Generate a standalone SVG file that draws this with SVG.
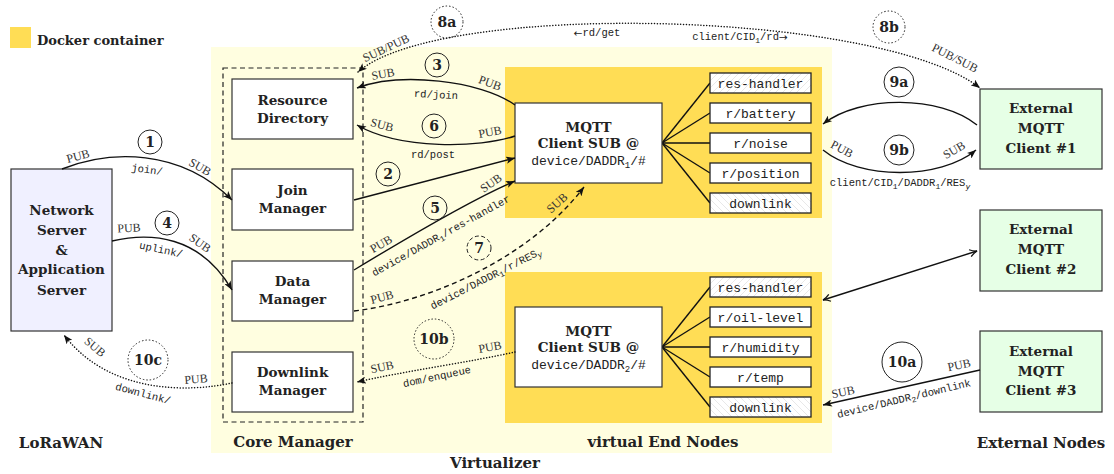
<svg xmlns="http://www.w3.org/2000/svg" width="1114" height="474" viewBox="0 0 1114 474">
<style>
.bold{font-family:"DejaVu Serif",serif;font-weight:bold;fill:#222}
.nt{font-size:13.5px;text-anchor:middle}
.title{font-size:15px;text-anchor:middle}
.lbl{font-family:"Liberation Serif",serif;font-size:12px;fill:#333;text-anchor:middle;dominant-baseline:central}
.mono{font-family:"Liberation Mono",monospace;fill:#222}
.ml{font-size:10.5px;text-anchor:middle;dominant-baseline:central}
.mt{font-size:13px;text-anchor:middle}
.arw{font-family:"DejaVu Sans",sans-serif}
.box{fill:#fff;stroke:#333;stroke-width:1.2}
.res{stroke:#222;stroke-width:1.3}
.num{font-family:"DejaVu Serif",serif;font-weight:bold;font-size:14px;text-anchor:middle;fill:#222;dominant-baseline:central}
.circ{fill:none;stroke:#222;stroke-width:1}
.solid{fill:none;stroke:#111;stroke-width:1.4}
.dash{fill:none;stroke:#111;stroke-width:1.4;stroke-dasharray:5,3.5}
.dot{fill:none;stroke:#111;stroke-width:1.5;stroke-dasharray:0.1,2.8;stroke-linecap:round}
.fan{stroke:#111;stroke-width:1.4}
.ext{fill:#e6ffe6;stroke:#333;stroke-width:1.2}
.dock{fill:#ffdd55}
</style>
<defs>
<marker id="st" viewBox="0 0 10 8" refX="10" refY="4" markerWidth="9" markerHeight="7.2" markerUnits="userSpaceOnUse" orient="auto-start-reverse">
<path d="M0,0 L10,4 L0,8 L2.5,4 z" fill="#111"/>
</marker>
<marker id="to" viewBox="0 0 10 10" refX="9" refY="5" markerWidth="9" markerHeight="9" markerUnits="userSpaceOnUse" orient="auto-start-reverse">
<path d="M1,1 Q5,4 9,5 Q5,6 1,9" fill="none" stroke="#111" stroke-width="1.4"/>
</marker>
<pattern id="hatchA" width="7" height="7" patternUnits="userSpaceOnUse">
<rect width="7" height="7" fill="#fff"/>
<path d="M-1,1 L1,-1 M0,7 L7,0 M6,8 L8,6" stroke="#d8d8d8" stroke-width="0.6"/>
</pattern>
<pattern id="hatchB" width="7" height="7" patternUnits="userSpaceOnUse">
<rect width="7" height="7" fill="#fff"/>
<path d="M-1,6 L1,8 M0,0 L7,7 M6,-1 L8,1" stroke="#d8d8d8" stroke-width="0.6"/>
</pattern>
</defs>

<g id="legend">
<rect x="10" y="27" width="21" height="21" class="dock"/>
<text x="37" y="45" class="bold" font-size="13">Docker container</text>
</g>

<g id="virtualizer">
<rect x="211" y="47" width="621" height="406" fill="#fffee0"/>
<text x="495" y="468" class="bold title">Virtualizer</text>
</g>

<g id="core-manager">
<rect x="223" y="68" width="140" height="354" fill="none" stroke="#222" stroke-width="1.2" stroke-dasharray="5,3.5"/>
<text x="293" y="447" class="bold title">Core Manager</text>
</g>

<g id="resource-directory">
<rect x="232" y="79" width="121" height="60" class="box"/>
<text x="292.5" y="105" class="bold nt">Resource</text>
<text x="292.5" y="123" class="bold nt">Directory</text>
</g>
<g id="join-manager">
<rect x="232" y="169" width="121" height="61" class="box"/>
<text x="292.5" y="195" class="bold nt">Join</text>
<text x="292.5" y="213" class="bold nt">Manager</text>
</g>
<g id="data-manager">
<rect x="232" y="261" width="121" height="60" class="box"/>
<text x="292.5" y="286" class="bold nt">Data</text>
<text x="292.5" y="304" class="bold nt">Manager</text>
</g>
<g id="downlink-manager">
<rect x="232" y="352" width="121" height="60" class="box"/>
<text x="292.5" y="377" class="bold nt">Downlink</text>
<text x="292.5" y="395" class="bold nt">Manager</text>
</g>

<g id="network-server">
<rect x="11" y="169" width="101" height="162" fill="#f0f0ff" stroke="#333" stroke-width="1.2"/>
<text x="61.5" y="215" class="bold nt">Network</text>
<text x="61.5" y="235" class="bold nt">Server</text>
<text x="61.5" y="255" class="bold nt">&amp;</text>
<text x="61.5" y="274" class="bold nt">Application</text>
<text x="61.5" y="295" class="bold nt">Server</text>
<text x="61" y="448" class="bold title">LoRaWAN</text>
</g>

<g id="virtual-end-node-1">
<rect x="505" y="67" width="317" height="151" class="dock"/>
<line x1="662" y1="143" x2="710" y2="83" class="fan"/>
<line x1="662" y1="143" x2="710" y2="113" class="fan"/>
<line x1="662" y1="143" x2="710" y2="143" class="fan"/>
<line x1="662" y1="143" x2="710" y2="173" class="fan"/>
<line x1="662" y1="143" x2="710" y2="203" class="fan"/>
<rect x="515" y="103" width="147" height="80" class="box"/>
<text x="588.5" y="132" class="bold nt">MQTT</text>
<text x="588.5" y="148" class="bold nt">Client SUB @</text>
<text x="588.5" y="165" class="mono mt">device/DADDR<tspan font-size="9" dy="3">1</tspan><tspan dy="-3">/#</tspan></text>
<rect x="710" y="73" width="101" height="20" class="res" fill="url(#hatchA)"/>
<text x="760.5" y="87.5" class="mono mt">res-handler</text>
<rect x="710" y="103" width="101" height="20" class="res" fill="#fff"/>
<text x="760.5" y="117.5" class="mono mt">r/battery</text>
<rect x="710" y="133" width="101" height="20" class="res" fill="#fff"/>
<text x="760.5" y="147.5" class="mono mt">r/noise</text>
<rect x="710" y="163" width="101" height="20" class="res" fill="#fff"/>
<text x="760.5" y="177.5" class="mono mt">r/position</text>
<rect x="710" y="193" width="101" height="20" class="res" fill="url(#hatchB)"/>
<text x="760.5" y="207.5" class="mono mt">downlink</text>
</g>

<g id="virtual-end-node-2">
<rect x="505" y="272" width="317" height="151" class="dock"/>
<line x1="662" y1="347" x2="710" y2="287" class="fan"/>
<line x1="662" y1="347" x2="710" y2="317" class="fan"/>
<line x1="662" y1="347" x2="710" y2="347" class="fan"/>
<line x1="662" y1="347" x2="710" y2="377" class="fan"/>
<line x1="662" y1="347" x2="710" y2="407" class="fan"/>
<rect x="515" y="307" width="147" height="80" class="box"/>
<text x="588.5" y="336" class="bold nt">MQTT</text>
<text x="588.5" y="352" class="bold nt">Client SUB @</text>
<text x="588.5" y="369" class="mono mt">device/DADDR<tspan font-size="9" dy="3">2</tspan><tspan dy="-3">/#</tspan></text>
<rect x="710" y="277" width="101" height="20" class="res" fill="url(#hatchA)"/>
<text x="760.5" y="291.5" class="mono mt">res-handler</text>
<rect x="710" y="307" width="101" height="20" class="res" fill="#fff"/>
<text x="760.5" y="321.5" class="mono mt">r/oil-level</text>
<rect x="710" y="337" width="101" height="20" class="res" fill="#fff"/>
<text x="760.5" y="351.5" class="mono mt">r/humidity</text>
<rect x="710" y="367" width="101" height="20" class="res" fill="#fff"/>
<text x="760.5" y="381.5" class="mono mt">r/temp</text>
<rect x="710" y="397" width="101" height="20" class="res" fill="url(#hatchB)"/>
<text x="760.5" y="411.5" class="mono mt">downlink</text>
<text x="663" y="447" class="bold title">virtual End Nodes</text>
</g>

<g id="external-client-1">
<rect x="980" y="89" width="122" height="80" class="ext"/>
<text x="1041" y="113" class="bold nt">External</text>
<text x="1041" y="133" class="bold nt">MQTT</text>
<text x="1041" y="153" class="bold nt">Client #1</text>
</g>
<g id="external-client-2">
<rect x="980" y="210" width="122" height="81" class="ext"/>
<text x="1041" y="234" class="bold nt">External</text>
<text x="1041" y="254" class="bold nt">MQTT</text>
<text x="1041" y="274" class="bold nt">Client #2</text>
</g>
<g id="external-client-3">
<rect x="980" y="331" width="122" height="81" class="ext"/>
<text x="1041" y="356" class="bold nt">External</text>
<text x="1041" y="376" class="bold nt">MQTT</text>
<text x="1041" y="395" class="bold nt">Client #3</text>
<text x="1041" y="448" class="bold title">External Nodes</text>
</g>

<g id="connectors">
<!-- 1 -->
<path d="M62 169 C110 150, 180 148, 232 200" class="solid" marker-end="url(#st)"/>
<text class="lbl" transform="translate(78,156) rotate(-15)">PUB</text>
<circle cx="150" cy="142" r="12" class="circ"/><text x="150" y="142" class="num">1</text>
<text class="mono ml" transform="translate(147,170) rotate(8)">join/</text>
<text class="lbl" transform="translate(200,167) rotate(30)">SUB</text>
<!-- 4 -->
<path d="M112 241 C150 232, 200 235, 232 290" class="solid" marker-end="url(#st)"/>
<text class="lbl" transform="translate(129,228) rotate(-3)">PUB</text>
<circle cx="167" cy="223" r="12" class="circ"/><text x="167" y="223" class="num">4</text>
<text class="mono ml" transform="translate(161,250) rotate(12)">uplink/</text>
<text class="lbl" transform="translate(200,243) rotate(35)">SUB</text>
<!-- 10c -->
<path d="M232 383 C190 392, 110 395, 64 335" class="dot" marker-end="url(#st)"/>
<text class="lbl" transform="translate(95,347) rotate(40)">SUB</text>
<circle cx="148" cy="360" r="20" class="circ" stroke-dasharray="1.5,2"/><text x="148" y="360" class="num" font-size="15">10c</text>
<text class="lbl" transform="translate(196,379) rotate(-5)">PUB</text>
<text class="mono ml" transform="translate(143,394) rotate(15)">downlink/</text>
<!-- 3 -->
<path d="M515 105 C480 80, 400 72, 357 88" class="solid" marker-end="url(#st)"/>
<text class="lbl" transform="translate(383,74) rotate(-10)">SUB</text>
<circle cx="437" cy="65" r="12" class="circ"/><text x="437" y="65" class="num">3</text>
<text class="lbl" transform="translate(490,83) rotate(20)">PUB</text>
<text class="mono ml" transform="translate(436,95) rotate(3)">rd/join</text>
<!-- 6 -->
<path d="M515 136 C480 148, 400 150, 357 125" class="solid" marker-end="url(#st)"/>
<text class="lbl" transform="translate(382,125) rotate(15)">SUB</text>
<circle cx="434" cy="126" r="12" class="circ"/><text x="434" y="126" class="num">6</text>
<text class="lbl" transform="translate(490,132) rotate(-10)">PUB</text>
<text class="mono ml" transform="translate(433,155)">rd/post</text>
<!-- 2 -->
<path d="M354 200 L515 158" class="solid" marker-end="url(#st)"/>
<circle cx="388" cy="174" r="12" class="circ"/><text x="388" y="174" class="num">2</text>
<!-- 5 -->
<path d="M354 270 C400 242, 470 200, 515 181" class="solid" marker-end="url(#st)"/>
<text class="lbl" transform="translate(491,183) rotate(-35)">SUB</text>
<circle cx="435" cy="208" r="12" class="circ"/><text x="435" y="208" class="num">5</text>
<text class="lbl" transform="translate(381,244) rotate(-30)">PUB</text>
<text class="mono ml" transform="translate(441,236) rotate(-29)">device/DADDR<tspan font-size="8" dy="2.5">1</tspan><tspan dy="-2.5">/res-handler</tspan></text>
<!-- 7 -->
<path d="M354 311 C430 302, 530 258, 584 187" class="dash" marker-end="url(#st)"/>
<circle cx="479" cy="248" r="12" class="circ" stroke-dasharray="4,2.5"/><text x="479" y="248" class="num">7</text>
<text class="lbl" transform="translate(557,203) rotate(-42)" fill="#d9a800">SUB</text>
<text class="lbl" transform="translate(382,297) rotate(-15)">PUB</text>
<text class="mono ml" transform="translate(486,279) rotate(-27)">device/DADDR<tspan font-size="8" dy="2.5">1</tspan><tspan dy="-2.5">/r/RES</tspan><tspan font-size="8" dy="2.5" font-style="italic">y</tspan></text>
<!-- 8 -->
<path d="M358 72 C440 0, 880 10, 980 88" class="dot" marker-start="url(#st)" marker-end="url(#st)"/>
<text class="lbl" transform="translate(386,48) rotate(-25)">SUB/PUB</text>
<circle cx="447" cy="22" r="16" class="circ" stroke-dasharray="1.5,2"/><text x="447" y="22" class="num" font-size="15">8a</text>
<text class="mono ml" x="597" y="33"><tspan class="arw">←</tspan>rd/get</text>
<text class="mono ml" x="740" y="37">client/CID<tspan font-size="8" dy="2.5">1</tspan><tspan dy="-2.5">/rd</tspan><tspan class="arw">→</tspan></text>
<circle cx="889" cy="27" r="16" class="circ" stroke-dasharray="1.5,2"/><text x="889" y="27" class="num" font-size="15">8b</text>
<text class="lbl" transform="translate(955,58) rotate(27)">PUB/SUB</text>
<!-- 9a -->
<path d="M977 125 C940 95, 860 95, 823 124" class="solid" marker-end="url(#st)"/>
<circle cx="899" cy="82" r="15" class="circ"/><text x="899" y="82" class="num" font-size="15">9a</text>
<!-- 9b -->
<path d="M823 150 C860 180, 940 180, 976 150" class="solid" marker-end="url(#st)"/>
<text class="lbl" transform="translate(842,149) rotate(28)">PUB</text>
<circle cx="899" cy="150" r="15" class="circ"/><text x="899" y="150" class="num" font-size="15">9b</text>
<text class="lbl" transform="translate(954,150) rotate(-30)">SUB</text>
<text class="mono ml" x="900" y="183">client/CID<tspan font-size="8" dy="2.5">1</tspan><tspan dy="-2.5">/DADDR</tspan><tspan font-size="8" dy="2.5">1</tspan><tspan dy="-2.5">/RES</tspan><tspan font-size="8" dy="2.5" font-style="italic">y</tspan></text>
<!-- ext 2 -->
<path d="M823 300 L977 251" class="solid" marker-start="url(#to)" marker-end="url(#to)"/>
<!-- 10a -->
<path d="M980 370 L823 405" class="solid" marker-end="url(#st)"/>
<circle cx="902" cy="362" r="20" class="circ"/><text x="902" y="362" class="num" font-size="15">10a</text>
<text class="lbl" transform="translate(959,365) rotate(-12)">PUB</text>
<text class="lbl" transform="translate(843,392) rotate(-12)">SUB</text>
<text class="mono ml" transform="translate(904,399) rotate(-13.5)">device/DADDR<tspan font-size="8" dy="2.5">2</tspan><tspan dy="-2.5">/downlink</tspan></text>
<!-- 10b -->
<path d="M515 352 C470 362, 400 372, 357 382" class="dot" marker-end="url(#st)"/>
<text class="lbl" transform="translate(490,347) rotate(-10)">PUB</text>
<circle cx="434" cy="339" r="20" class="circ" stroke-dasharray="1.5,2"/><text x="434" y="339" class="num" font-size="15">10b</text>
<text class="lbl" transform="translate(382,367) rotate(-12)">SUB</text>
<text class="mono ml" transform="translate(437,377) rotate(-12)">dom/enqueue</text>
</g>
</svg>
